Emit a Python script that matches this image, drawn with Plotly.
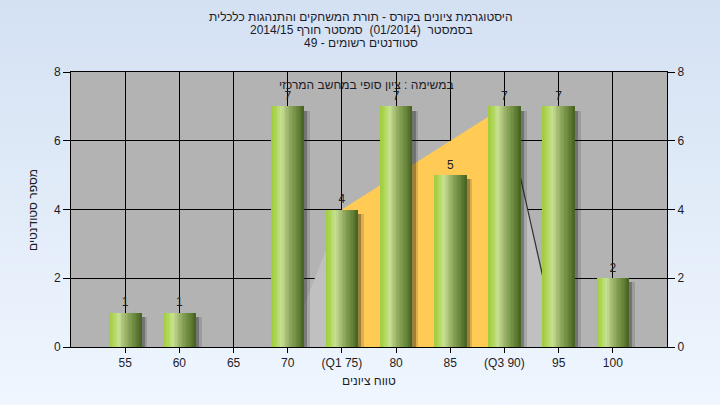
import base64
import plotly.graph_objects as go

# ---------------- data ----------------
grades = [55, 60, 65, 70, 75, 80, 85, 90, 95, 100]
counts = [1, 1, 0, 7, 4, 7, 5, 7, 7, 2]
tick_labels = ["55", "60", "65", "70", "(Q1 75)", "80", "85", "(Q3 90)", "95", "100"]
q1, q3 = 75, 90
whisker_low, whisker_high = 70, 95

title_lines = [
    "היסטוגרמת ציונים בקורס - תורת המשחקים והתנהגות כלכלית",
    "בסמסטר  (01/2014)  סמסטר חורף 2014/15",
    "סטודנטים רשומים - 49",
]
subtitle = "במשימה : ציון סופי במחשב המרכזי"
x_title = "טווח ציונים"
y_title = "מספר סטודנטים"

# ---------------- geometry / style ----------------
W, H = 720, 405
L, R, T, B = 71, 53, 72, 58
PW, PH = W - L - R, H - T - B
FONT = "Liberation Sans, Arial, DejaVu Sans, sans-serif"
TXT = "#1c1c28"
bar_w = 3.0

cnt = dict(zip(grades, counts))
y_q1, y_q3 = cnt[q1], cnt[q3]

fig = go.Figure()

# bar shadows
for dx, op in [(0.55, 0.16), (0.3, 0.32)]:
    fig.add_trace(go.Bar(
        x=grades, y=counts, base=-0.12, width=bar_w,
        offset=-bar_w / 2 + dx,
        marker=dict(color=f"rgba(30,30,30,{op})", line=dict(width=0)),
        hoverinfo="skip", showlegend=False))

# cylinder-like gradient bars, drawn as narrow strips
stops = [(0.0, (160, 203, 62)), (0.12, (172, 212, 80)), (0.3, (200, 226, 148)),
         (0.45, (168, 190, 118)), (0.62, (132, 160, 84)), (0.82, (100, 130, 56)),
         (1.0, (70, 96, 32))]


def grad(t):
    for (t0, c0), (t1, c1) in zip(stops[:-1], stops[1:]):
        if t0 <= t <= t1:
            f = (t - t0) / (t1 - t0)
            return "rgb(%d,%d,%d)" % tuple(round(a + (b - a) * f) for a, b in zip(c0, c1))
    return "rgb(%d,%d,%d)" % stops[-1][1]


N = 24
sw = bar_w / N
for i in range(N):
    t = (i + 0.5) / N
    fig.add_trace(go.Bar(
        x=grades, y=counts, width=sw * 1.6 if i < N - 1 else sw,
        offset=-bar_w / 2 + i * sw,
        marker=dict(color=grad(t), line=dict(width=0)),
        hoverinfo="skip", showlegend=False))

# data labels
lab_x = [g for g, c in zip(grades, counts) if c > 0]
lab_y = [c for c in counts if c > 0]
fig.add_trace(go.Scatter(
    x=lab_x, y=lab_y, mode="text+markers", text=[str(c) for c in lab_y],
    marker=dict(size=4, opacity=0),
    textposition="top center", textfont=dict(family=FONT, size=12, color=TXT),
    hoverinfo="skip", showlegend=False, cliponaxis=False))

# invisible trace for right axis
fig.add_trace(go.Scatter(x=[grades[0]], y=[0], yaxis="y2", mode="markers",
                         marker=dict(opacity=0), hoverinfo="skip", showlegend=False))

# ---------------- quartile areas (between grid and bars) ----------------
def poly(xs, ys):
    return "M " + " L ".join(f"{a},{b}" for a, b in zip(xs, ys)) + " Z"


shapes = [
    dict(type="rect", xref="paper", yref="paper", x0=0, x1=1, y0=0, y1=1,
         fillcolor="#b3b3b3", line=dict(width=0), layer="below"),
    dict(type="path", xref="x", yref="y", layer="between",
         path=poly([whisker_low, q1, q1], [0, y_q1, 0]),
         fillcolor="#c0c0c0", line=dict(width=0)),
    dict(type="path", xref="x", yref="y", layer="between",
         path=poly([q3, whisker_high, q3], [y_q3, 0, 0]),
         fillcolor="#c0c0c0", line=dict(width=0)),
    dict(type="line", xref="x", yref="y", layer="between",
         x0=q3, y0=y_q3, x1=whisker_high, y1=0, line=dict(color="#303030", width=1.2)),
    dict(type="path", xref="x", yref="y", layer="between",
         path=poly([q1, q1, q3, q3], [0, y_q1, y_q3, 0]),
         fillcolor="#ffcb55", line=dict(width=0)),
]

# ---------------- background gradient ----------------
svg = ('<svg xmlns="http://www.w3.org/2000/svg" width="720" height="405">'
       '<defs><linearGradient id="g" x1="0" y1="0" x2="0" y2="1">'
       '<stop offset="0" stop-color="#d4e1f3"/><stop offset="1" stop-color="#eff6fe"/>'
       '</linearGradient></defs><rect width="720" height="405" fill="url(#g)"/></svg>')
uri = "data:image/svg+xml;base64," + base64.b64encode(svg.encode()).decode()

px = lambda v: (v - L) / PW
py = lambda v: (H - B - v) / PH

annotations = []
for i, line in enumerate(title_lines):
    annotations.append(dict(text=line, x=px(361), y=py(17 + 13 * i), xref="paper", yref="paper",
                            showarrow=False, font=dict(family=FONT, size=12, color=TXT),
                            xanchor="center", yanchor="middle"))
annotations.append(dict(text=subtitle, x=px(366), y=py(85), xref="paper", yref="paper",
                        showarrow=False, font=dict(family=FONT, size=12, color=TXT),
                        xanchor="center", yanchor="middle"))
annotations.append(dict(text=x_title, x=px(369), y=py(381), xref="paper", yref="paper",
                        showarrow=False, font=dict(family=FONT, size=12, color=TXT),
                        xanchor="center", yanchor="middle"))
annotations.append(dict(text=y_title, x=px(33), y=py(210), xref="paper", yref="paper",
                        showarrow=False, textangle=-90, font=dict(family=FONT, size=12, color=TXT),
                        xanchor="center", yanchor="middle"))

axis_font = dict(family=FONT, size=12, color=TXT)
fig.update_layout(
    width=W, height=H, margin=dict(l=L, r=R, t=T, b=B, pad=0),
    paper_bgcolor="#e2ecf8", plot_bgcolor="#b3b3b3",
    barmode="overlay", bargap=0,
    images=[dict(source=uri, xref="paper", yref="paper", x=px(0), y=py(0),
                 sizex=W / PW, sizey=H / PH, sizing="stretch", layer="below",
                 xanchor="left", yanchor="top")],
    shapes=shapes,
    annotations=annotations,
    xaxis=dict(range=[50, 105], tickvals=grades, ticktext=tick_labels,
               showgrid=True, gridcolor="black", gridwidth=1,
               ticks="outside", ticklen=5, tickcolor="black",
               showline=True, linecolor="black", linewidth=1, mirror=True,
               zeroline=False, tickfont=axis_font, fixedrange=True),
    yaxis=dict(range=[0, 8], tickvals=[0, 2, 4, 6, 8], showgrid=True, gridcolor="black",
               gridwidth=1, ticks="outside", ticklen=7, tickcolor="black",
               showline=True, linecolor="black", linewidth=1, mirror=True,
               zeroline=False, tickfont=axis_font, fixedrange=True),
    yaxis2=dict(range=[0, 8], tickvals=[0, 2, 4, 6, 8], overlaying="y", side="right",
                showgrid=False, ticks="outside", ticklen=7, tickcolor="black",
                showline=True, linecolor="black", linewidth=1, zeroline=False,
                tickfont=axis_font, fixedrange=True),
    font=dict(family=FONT),
)

fig.write_html("out.html", config={"displayModeBar": False},
               post_script="document.body.style.margin='0';document.body.style.padding='0';")
